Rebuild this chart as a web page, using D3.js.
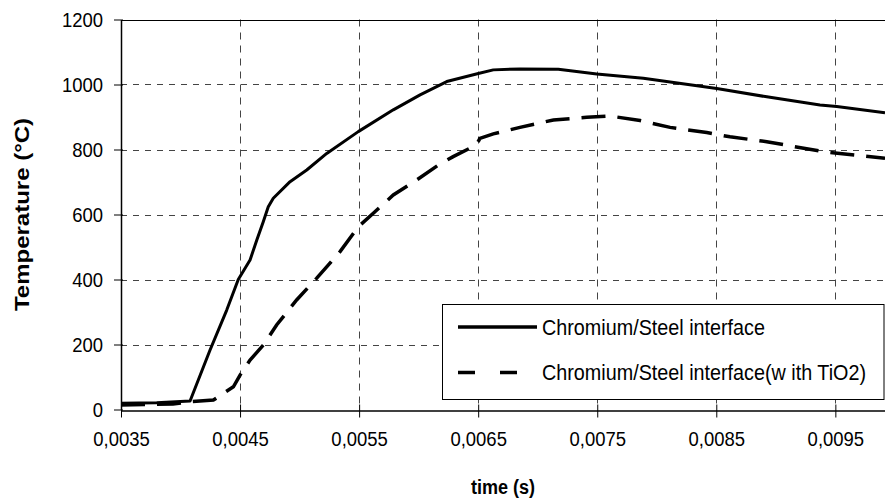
<!DOCTYPE html>
<html>
<head>
<meta charset="utf-8">
<script src="https://cdn.jsdelivr.net/npm/d3@7"></script>
<style>
  html, body { margin: 0; padding: 0; background: #fff; }
  svg { display: block; font-family: "Liberation Sans", Arial, sans-serif; }
</style>
</head>
<body>
<svg id="chart" width="885" height="503"></svg>
<script>
// ---- Data ----
const timeSolid = [0.0035, 0.0038, 0.00408, 0.004248, 0.004388, 0.004485, 0.004584, 0.00464, 0.004695, 0.004737, 0.004779, 0.00492, 0.00506, 0.005228, 0.005493, 0.005787, 0.006012, 0.006236, 0.006501, 0.006627, 0.006851, 0.007173, 0.007496, 0.007887, 0.008504, 0.008924, 0.009371, 0.009512, 0.009917];
const tempSolid = [19, 21, 26, 183, 306, 400, 460, 521, 578, 624, 650, 701, 737, 788, 855, 922, 968, 1009, 1034, 1045, 1048, 1047, 1032, 1019, 988, 962, 937, 932, 913];

const timeDashed = [0.0035, 0.003937, 0.00408, 0.004276, 0.004444, 0.0045, 0.004584, 0.004695, 0.004807, 0.004975, 0.005144, 0.00534, 0.005493, 0.005619, 0.005787, 0.005983, 0.006165, 0.00629, 0.006486, 0.006514, 0.006627, 0.006851, 0.007132, 0.007412, 0.007608, 0.007860, 0.008112, 0.008420, 0.008615, 0.008924, 0.009125, 0.009405, 0.009917];
const tempDashed = [14, 17, 24, 29, 70, 106, 152, 198, 260, 337, 404, 486, 562, 604, 660, 706, 752, 778, 814, 834, 848, 868, 891, 899, 903, 889, 868, 852, 839, 824, 811, 793, 773];

const seriesNames = ["Chromium/Steel interface", "Chromium/Steel interface(w ith TiO2)"];
const xTickValues = [0.0035, 0.0045, 0.0055, 0.0065, 0.0075, 0.0085, 0.0095];
const xTickLabels = ["0,0035", "0,0045", "0,0055", "0,0065", "0,0075", "0,0085", "0,0095"];
const yTickValues = [0, 200, 400, 600, 800, 1000, 1200];
const yTickLabels = ["0", "200", "400", "600", "800", "1000", "1200"];
const xTitle = "time (s)";
const yTitle = "Temperature (°C)";

// ---- Layout ----
const svg = d3.select("#chart");
const plot = { left: 121, right: 885, top: 19.5, bottom: 409.5 };
const x = d3.scaleLinear().domain([0.0035, 0.009917]).range([plot.left, plot.right]);
const y = d3.scaleLinear().domain([0, 1200]).range([plot.bottom, plot.top]);
const SX = 0.88;          // horizontal squeeze of the reference's lettering
const FONT = "Liberation Sans, Arial, sans-serif";

const gridColor = "#444";
svg.append("g").selectAll("line")
  .data(yTickValues.filter(v => v > 0 && v < 1200))
  .join("line")
  .attr("x1", plot.left).attr("x2", plot.right)
  .attr("y1", d => Math.round(y(d)) + 0.5).attr("y2", d => Math.round(y(d)) + 0.5)
  .attr("stroke", gridColor).attr("stroke-width", 1).attr("stroke-dasharray", "6,6");
svg.append("g").selectAll("line")
  .data(xTickValues.slice(1))
  .join("line")
  .attr("x1", d => Math.round(x(d)) + 0.5).attr("x2", d => Math.round(x(d)) + 0.5)
  .attr("y1", plot.top).attr("y2", plot.bottom)
  .attr("stroke", gridColor).attr("stroke-width", 1).attr("stroke-dasharray", "7,6");
svg.append("line")
  .attr("x1", plot.left).attr("x2", plot.right)
  .attr("y1", Math.round(plot.top) + 0.5).attr("y2", Math.round(plot.top) + 0.5)
  .attr("stroke", "#000").attr("stroke-width", 1);

// ---- Axes ----
const xAxis = d3.axisBottom(x).tickValues(xTickValues)
  .tickFormat((d, i) => xTickLabels[i]).tickSize(7).tickSizeOuter(0).tickPadding(14);
const gx = svg.append("g").attr("transform", `translate(0,${Math.round(plot.bottom) + 0.5})`).call(xAxis);
gx.select(".domain").attr("stroke", "#000").attr("stroke-width", 1.5);
gx.selectAll(".tick line").attr("stroke", "#000").attr("y1", -6);
gx.selectAll(".tick text").attr("font-size", 21).attr("fill", "#000")
  .attr("font-family", FONT).attr("transform", `scale(${SX},1)`);

const yAxis = d3.axisLeft(y).tickValues(yTickValues)
  .tickFormat((d, i) => yTickLabels[i]).tickSize(7).tickSizeOuter(0).tickPadding(11);
const gy = svg.append("g").attr("transform", `translate(${plot.left},0)`).call(yAxis);
gy.select(".domain").attr("stroke", "#000").attr("stroke-width", 1.5);
gy.selectAll(".tick line").attr("stroke", "#000").attr("x1", 2);
gy.selectAll(".tick text").attr("font-size", 21).attr("fill", "#000")
  .attr("font-family", FONT)
  .attr("x", -18 / SX).attr("transform", `scale(${SX},1)`);

// ---- Lines ----
const line = d3.line().x(d => x(d[0])).y(d => y(d[1]));
const solidData = timeSolid.map((t, i) => [t, tempSolid[i]]);
const dashedData = timeDashed.map((t, i) => [t, tempDashed[i]]);

svg.append("path").datum(dashedData)
  .attr("d", line).attr("fill", "none").attr("stroke", "#000")
  .attr("stroke-width", 3.5).attr("stroke-dasharray", "24,12");
svg.append("path").datum(solidData)
  .attr("d", line).attr("fill", "none").attr("stroke", "#000")
  .attr("stroke-width", 3).attr("stroke-linejoin", "round");

// ---- Legend ----
const lg = svg.append("g");
lg.append("rect").attr("x", 442.5).attr("y", 304.5).attr("width", 441.5).attr("height", 95)
  .attr("fill", "#fff").attr("stroke", "#000").attr("stroke-width", 1);
const legendY = [327, 372.5];
lg.append("line").attr("x1", 458).attr("x2", 537).attr("y1", legendY[0]).attr("y2", legendY[0])
  .attr("stroke", "#000").attr("stroke-width", 3.5);
lg.append("line").attr("x1", 458).attr("x2", 526).attr("y1", legendY[1]).attr("y2", legendY[1])
  .attr("stroke", "#000").attr("stroke-width", 3.5).attr("stroke-dasharray", "17,25");
lg.selectAll("text.lt").data(seriesNames).join("text").attr("class", "lt")
  .attr("transform", (d, i) => `translate(542,${legendY[i]}) scale(0.92,1)`)
  .attr("dy", "0.35em")
  .attr("font-size", 21.5).attr("fill", "#000").text(d => d);

// ---- Titles ----
svg.append("text")
  .attr("transform", `translate(${(plot.left + plot.right) / 2},487) scale(0.86,1)`)
  .attr("dy", "0.35em")
  .attr("text-anchor", "middle").attr("font-size", 21).attr("font-weight", "bold").text(xTitle);
svg.append("text")
  .attr("transform", `translate(22,${(plot.top + plot.bottom) / 2}) rotate(-90) scale(1,0.86)`)
  .attr("dy", "0.35em").attr("text-anchor", "middle")
  .attr("font-size", 24).attr("font-weight", "bold").text(yTitle);
</script>
</body>
</html>
